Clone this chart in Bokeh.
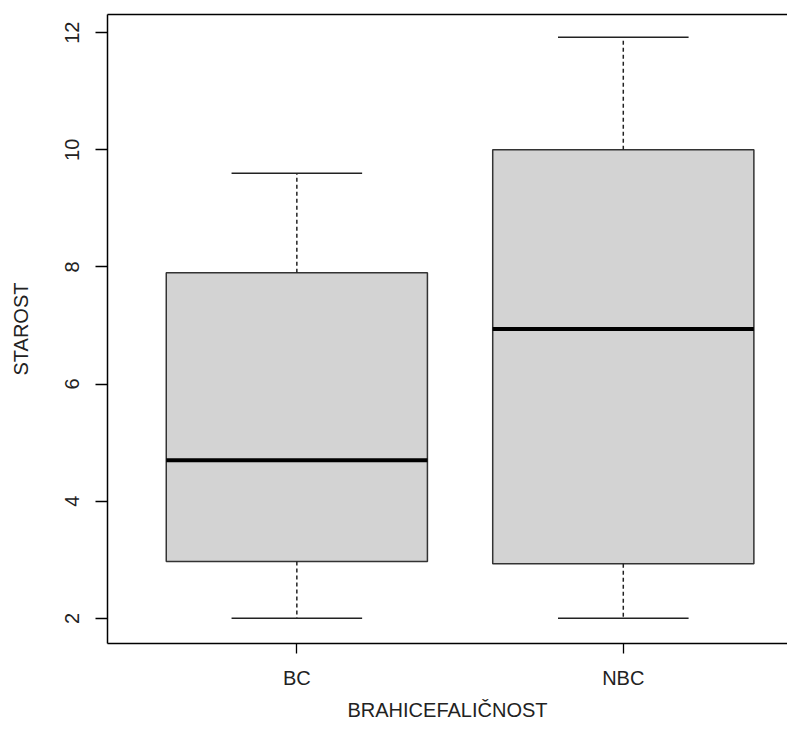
from bokeh.plotting import figure
from bokeh.models import Range1d, FixedTicker, LinearAxis
from bokeh.embed import file_html
from bokeh.resources import INLINE

# ---- data ----
categories = ["BC", "NBC"]
positions = [1, 2]
lower_whisker = [2.0, 2.0]
q1 = [2.97, 2.93]
median = [4.70, 6.94]
q3 = [7.90, 10.00]
upper_whisker = [9.60, 11.92]
y_ticks = [2, 4, 6, 8, 10, 12]
x_title = "BRAHICEFALIČNOST"
y_title = "STAROST"

BOX_W = 0.8
CAP_W = 0.4
FONT = "Liberation Sans"
FS = "20px"

p = figure(width=787, height=723, output_backend="svg", toolbar_location=None,
           x_range=Range1d(0.42, 2.503), y_range=Range1d(1.57, 12.31),
           min_border_left=107, min_border_top=14, min_border_right=0,
           min_border_bottom=80)
p.outline_line_color = None
p.xgrid.visible = False
p.ygrid.visible = False
p.background_fill_color = "white"

# boxes
p.vbar(x=positions, width=BOX_W, bottom=q1, top=q3,
       fill_color="#d3d3d3", line_color="#333333", line_width=1.5)
# whiskers (dashed)
p.segment(x0=positions, y0=q3, x1=positions, y1=upper_whisker,
          line_color="#222222", line_width=1.5, line_dash="4 3")
p.segment(x0=positions, y0=q1, x1=positions, y1=lower_whisker,
          line_color="#222222", line_width=1.5, line_dash="4 3")
# staples
cap_l = [x - CAP_W / 2 for x in positions]
cap_r = [x + CAP_W / 2 for x in positions]
p.segment(x0=cap_l, y0=upper_whisker, x1=cap_r, y1=upper_whisker,
          line_color="#222222", line_width=1.5)
p.segment(x0=cap_l, y0=lower_whisker, x1=cap_r, y1=lower_whisker,
          line_color="#222222", line_width=1.5)
# medians
med_l = [x - BOX_W / 2 for x in positions]
med_r = [x + BOX_W / 2 for x in positions]
p.segment(x0=med_l, y0=median, x1=med_r, y1=median,
          line_color="black", line_width=4)

# y axis
ya = p.yaxis[0]
ya.ticker = FixedTicker(ticks=y_ticks)
ya.major_label_orientation = "vertical"
ya.major_tick_out = 12
ya.major_label_standoff = 16
ya.axis_label = y_title
ya.axis_label_standoff = 31

# x axis
xa = p.xaxis[0]
xa.ticker = FixedTicker(ticks=positions)
xa.major_label_overrides = {pos: c for pos, c in zip(positions, categories)}
xa.major_tick_out = 10
xa.major_label_standoff = 13
xa.axis_label = x_title
xa.axis_label_standoff = 7

for a in [xa, ya]:
    a.major_tick_in = 0
    a.minor_tick_out = 0
    a.minor_tick_in = 0
    a.axis_line_color = "black"
    a.axis_line_width = 1.5
    a.major_tick_line_color = "black"
    a.major_tick_line_width = 1.3
    a.major_label_text_font = FONT
    a.major_label_text_font_size = FS
    a.major_label_text_color = "#222222"
    a.axis_label_text_font = FONT
    a.axis_label_text_font_size = FS
    a.axis_label_text_font_style = "normal"
    a.axis_label_text_color = "#222222"

# top frame line
top = LinearAxis(ticker=FixedTicker(ticks=[]), major_tick_out=0, major_tick_in=0,
                 minor_tick_out=0, minor_tick_in=0, major_label_standoff=0,
                 major_label_text_font_size="0px", axis_line_color="black",
                 axis_line_width=1.5)
p.add_layout(top, "above")

open("out.html", "w").write(file_html(p, INLINE))
